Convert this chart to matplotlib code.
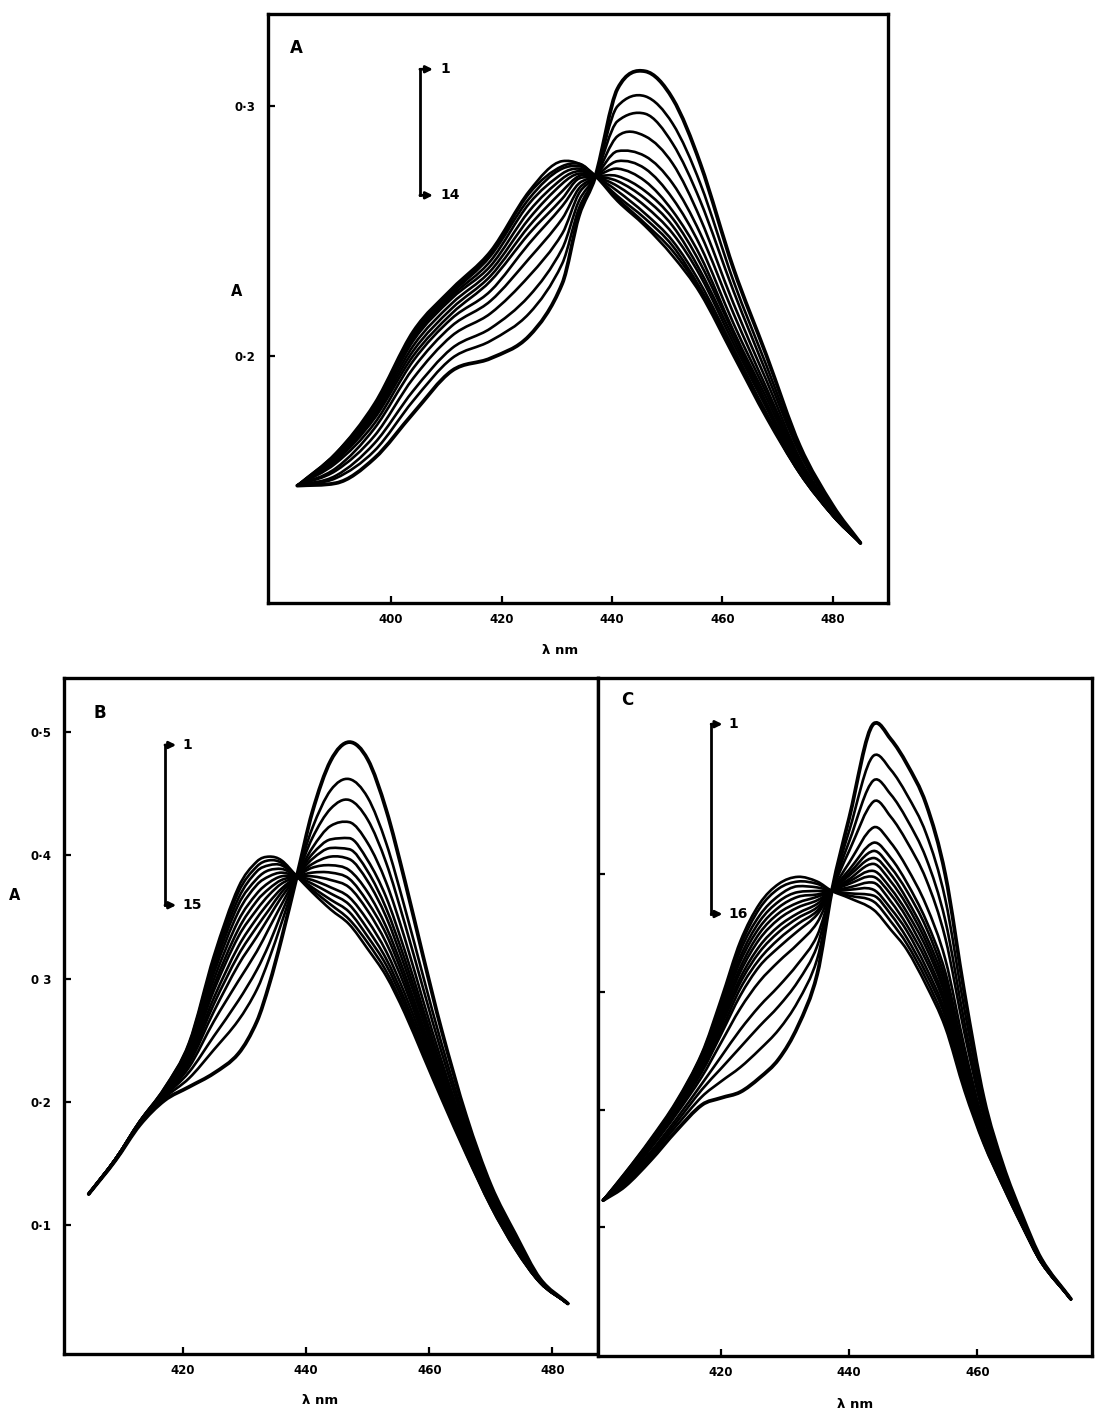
import numpy as np
import matplotlib
matplotlib.use("Agg")
import matplotlib.pyplot as plt
from matplotlib.path import Path
from matplotlib.patches import PathPatch

# ---- panel A : 14 spectra, one row per wavelength, one column per spectrum (1..14)
wl_a = [383, 390, 397, 404, 411, 418, 425, 431, 434, 437, 441, 446, 451, 456, 462, 468, 474, 480, 485]
abs_a = [
    [.148] * 14,
    [.149, .151, .152, .154, .155, .157, .158, .158, .159, .159, .160, .160, .161, .161],
    [.159, .162, .165, .168, .171, .173, .175, .176, .177, .178, .179, .180, .180, .181],
    [.177, .182, .186, .191, .195, .198, .200, .202, .204, .206, .207, .208, .209, .210],
    [.194, .199, .203, .208, .212, .215, .217, .219, .221, .223, .224, .225, .226, .227],
    [.199, .206, .211, .217, .222, .226, .230, .232, .234, .236, .238, .240, .241, .242],
    [.208, .217, .224, .232, .239, .245, .249, .252, .255, .258, .261, .263, .265, .266],
    [.229, .237, .243, .249, .255, .260, .263, .266, .269, .271, .273, .275, .276, .278],
    [.256, .259, .262, .265, .267, .269, .271, .272, .273, .274, .275, .276, .277, .277],
    [.272] * 14,
    [.307, .300, .294, .288, .282, .278, .275, .272, .270, .268, .266, .264, .263, .262],
    [.314, .304, .297, .288, .280, .275, .270, .266, .263, .260, .257, .255, .253, .252],
    [.303, .293, .285, .277, .269, .263, .258, .255, .252, .249, .246, .244, .242, .240],
    [.277, .269, .262, .255, .249, .244, .240, .237, .234, .232, .229, .227, .226, .225],
    [.235, .230, .226, .221, .217, .213, .210, .209, .207, .205, .203, .202, .201, .200],
    [.200, .196, .193, .190, .187, .185, .183, .181, .180, .179, .177, .176, .176, .175],
    [.164, .162, .161, .159, .158, .157, .156, .155, .155, .154, .154, .153, .153, .153],
    [.140, .139, .139, .138, .138, .137, .137, .137, .136, .136, .136, .136, .136, .136],
    [.125] * 14,
]

# ---- panel B : 15 spectra
wl_b = [404.7, 409, 413, 417, 421, 425, 429, 432, 434, 436, 438.5, 441, 444, 447, 450, 453,
        456, 459, 462, 466, 470, 474, 478, 482.5]
abs_b = [
    [.125] * 15,
    [.152, .152, .152, .152, .153, .153, .153, .153, .153, .153, .153, .153, .153, .153, .153],
    [.181, .182, .182, .182, .183, .183, .183, .183, .183, .183, .184, .184, .184, .184, .184],
    [.201, .203, .204, .205, .206, .207, .207, .208, .208, .209, .209, .210, .210, .211, .211],
    [.212, .219, .224, .228, .231, .233, .235, .237, .239, .241, .243, .244, .246, .247, .248],
    [.223, .242, .253, .265, .273, .279, .284, .290, .294, .299, .304, .308, .312, .315, .318],
    [.239, .266, .282, .298, .311, .319, .326, .334, .340, .347, .354, .360, .365, .370, .374],
    [.265, .291, .307, .322, .334, .342, .349, .356, .363, .369, .376, .381, .387, .391, .395],
    [.295, .316, .328, .341, .350, .356, .362, .368, .373, .378, .383, .388, .392, .396, .399],
    [.332, .345, .353, .360, .366, .370, .373, .377, .380, .383, .386, .389, .392, .394, .396],
    [.383] * 15,
    [.435, .422, .414, .406, .401, .397, .393, .390, .386, .383, .380, .377, .374, .372, .370],
    [.477, .453, .438, .424, .413, .406, .399, .392, .386, .380, .374, .369, .364, .360, .356],
    [.492, .462, .445, .427, .414, .405, .397, .388, .381, .374, .366, .360, .354, .348, .344],
    [.478, .447, .429, .410, .396, .387, .379, .370, .362, .355, .347, .340, .334, .329, .324],
    [.437, .410, .394, .378, .366, .357, .350, .342, .336, .329, .322, .316, .311, .306, .302],
    [.380, .358, .345, .333, .323, .316, .310, .304, .299, .294, .288, .283, .279, .275, .272],
    [.318, .302, .292, .282, .275, .270, .266, .261, .257, .253, .249, .245, .242, .239, .237],
    [.258, .247, .240, .233, .228, .225, .222, .219, .216, .213, .210, .208, .206, .204, .202],
    [.188, .182, .178, .174, .172, .170, .168, .166, .165, .163, .162, .160, .159, .158, .157],
    [.132, .129, .127, .125, .123, .122, .121, .120, .119, .118, .118, .117, .116, .115, .115],
    [.092, .090, .088, .087, .086, .085, .084, .084, .083, .082, .082, .081, .081, .080, .080],
    [.056, .055, .055, .055, .054, .054, .054, .054, .054, .054, .053, .053, .053, .053, .053],
    [.036] * 15,
]

# ---- panel C : 16 spectra
wl_c = [401.6, 405, 409, 413, 417, 420, 423, 426, 429, 432, 435, 437.3, 440, 443.8, 446.5, 449,
        452, 455, 458, 461, 464, 467, 470, 474.6]
abs_c = [
    [.123] * 16,
    [.135, .137, .138, .140, .141, .142, .142, .143, .143, .144, .144, .144, .145, .145, .146, .146],
    [.157, .160, .162, .164, .167, .168, .169, .170, .171, .171, .172, .173, .173, .174, .174, .175],
    [.182, .186, .189, .192, .196, .198, .199, .200, .201, .202, .203, .204, .204, .205, .206, .207],
    [.204, .211, .217, .222, .228, .232, .234, .236, .237, .239, .241, .242, .244, .245, .247, .248],
    [.210, .224, .235, .245, .257, .264, .267, .271, .274, .277, .280, .283, .286, .288, .291, .294],
    [.215, .236, .253, .268, .286, .297, .303, .308, .312, .317, .321, .326, .330, .335, .339, .343],
    [.227, .251, .271, .288, .309, .322, .328, .334, .339, .345, .350, .355, .360, .365, .371, .375],
    [.243, .268, .288, .305, .326, .338, .345, .351, .356, .362, .367, .372, .377, .382, .388, .392],
    [.271, .292, .309, .324, .341, .352, .358, .363, .367, .372, .376, .381, .385, .390, .394, .398],
    [.315, .328, .339, .348, .359, .366, .369, .372, .375, .378, .381, .383, .386, .389, .392, .394],
    [.386] * 16,
    [.448, .437, .428, .420, .410, .404, .401, .399, .396, .394, .392, .389, .387, .384, .382, .380],
    [.528, .501, .480, .462, .440, .427, .420, .414, .409, .403, .398, .393, .387, .382, .377, .370],
    [.515, .489, .468, .449, .427, .414, .406, .400, .394, .388, .383, .377, .371, .366, .360, .353],
    [.494, .468, .447, .428, .406, .393, .386, .379, .374, .368, .363, .357, .352, .346, .341, .336],
    [.460, .435, .414, .396, .374, .361, .355, .348, .343, .338, .332, .327, .321, .316, .311, .306],
    [.400, .379, .361, .346, .328, .317, .311, .306, .301, .297, .292, .288, .283, .279, .274, .270],
    [.299, .285, .274, .265, .253, .246, .242, .239, .236, .233, .230, .227, .224, .221, .219, .216],
    [.210, .204, .198, .194, .188, .185, .183, .182, .180, .179, .178, .176, .175, .173, .172, .171],
    [.153, .150, .148, .145, .143, .141, .141, .140, .139, .139, .138, .137, .137, .136, .135, .135],
    [.110, .108, .107, .106, .105, .104, .104, .103, .103, .103, .102, .102, .102, .102, .101, .101],
    [.073, .073, .072, .072, .071, .071, .071, .071, .071, .071, .071, .070, .070, .070, .070, .070],
    [.039] * 16,
]

ticks_a = [400, 420, 440, 460, 480]
ticks_b = [420, 440, 460, 480]
ticks_c = [420, 440, 460]
yticks_a = [0.2, 0.3]
yticks_b = [0.1, 0.2, 0.3, 0.4, 0.5]
ylabels_a = ["0·2", "0·3"]
ylabels_b = ["0·1", "0·2", "0 3", "0·4", "0·5"]
yticks_c = [0.1, 0.2, 0.3, 0.4]


def smooth_path(x, y):
    # cubic bezier through the read points (drawn by matplotlib), tangents limited
    x = np.asarray(x, float)
    y = np.asarray(y, float)
    h = np.diff(x)
    d = np.diff(y) / h
    m = np.zeros(len(x))
    m[0], m[-1] = d[0], d[-1]
    for i in range(1, len(x) - 1):
        mc = (y[i + 1] - y[i - 1]) / (x[i + 1] - x[i - 1])
        lo = min(abs(d[i - 1]), abs(d[i]))
        if d[i - 1] * d[i] > 0:
            mc = np.sign(mc) * min(abs(mc), 3 * lo)
        elif d[i - 1] * d[i] < 0:
            mc = np.sign(mc) * min(abs(mc), lo)
        m[i] = mc
    verts = [(x[0], y[0])]
    codes = [Path.MOVETO]
    for i in range(len(x) - 1):
        verts += [(x[i] + h[i] / 3, y[i] + m[i] * h[i] / 3),
                  (x[i + 1] - h[i] / 3, y[i + 1] - m[i + 1] * h[i] / 3),
                  (x[i + 1], y[i + 1])]
        codes += [Path.CURVE4] * 3
    return Path(verts, codes)


def draw_panel(ax, wl, table, xlim, ylim, xt, yt, ylab, letter, last, arrow, xlab_pos):
    data = np.array(table)
    for k in range(data.shape[1]):
        lw = 2.7 if k == 0 else 1.9
        ax.add_patch(PathPatch(smooth_path(wl, data[:, k]), fill=False,
                               edgecolor="black", lw=lw, capstyle="round", joinstyle="round"))
    ax.set_xlim(*xlim)
    ax.set_ylim(*ylim)
    ax.set_xticks(xt)
    ax.set_xticklabels([str(t) for t in xt], fontsize=8.5, fontweight="bold")
    ax.set_yticks(yt)
    if ylab is None:
        ax.tick_params(axis="y", labelleft=False)
    else:
        ax.set_yticklabels(ylab, fontsize=8.5, fontweight="bold")
    ax.tick_params(direction="in", length=5, width=1.6, pad=7)
    ax.tick_params(axis="y", pad=9)
    for s in ax.spines.values():
        s.set_linewidth(2.4)
    ax.text(letter[0], letter[1], letter[2], transform=ax.transAxes, fontsize=12,
            fontweight="bold", ha="center", va="center")
    # arrow key 1 -> last
    x0, y_top, y_bot, x1 = arrow
    ax.plot([x0, x0], [y_top, y_bot], color="black", lw=2.0, transform=ax.transAxes)
    for yy, lab in [(y_top, "1"), (y_bot, last)]:
        ax.annotate("", xy=(x1, yy), xytext=(x0, yy), xycoords="axes fraction",
                    arrowprops=dict(arrowstyle="-|>", color="black", lw=2.0, mutation_scale=10,
                                    shrinkA=0, shrinkB=0))
        ax.text(x1 + 0.012, yy, lab, transform=ax.transAxes, fontsize=10,
                fontweight="bold", ha="left", va="center")
    ax.text(xlab_pos[0], xlab_pos[1], "λ nm", transform=ax.transAxes, fontsize=9.5,
            fontweight="bold", ha="center", va="center")


fig = plt.figure(figsize=(11.12, 14.18), dpi=100)
fig.patch.set_facecolor("white")

ax_a = fig.add_axes([0.2410, 0.5748, 0.5576, 0.4154])
draw_panel(ax_a, wl_a, abs_a, (377.7, 490.0), (0.101, 0.337), ticks_a, yticks_a, ylabels_a,
           (0.045, 0.942, "A"), "14", (0.245, 0.906, 0.692, 0.266), (0.471, -0.080))
ax_a.text(-0.050, 0.528, "A", transform=ax_a.transAxes, fontsize=10.5, fontweight="bold",
          ha="center", va="center")

ax_b = fig.add_axes([0.0576, 0.0451, 0.4802, 0.4767])
draw_panel(ax_b, wl_b, abs_b, (400.7, 487.4), (-0.005, 0.544), ticks_b, yticks_b, ylabels_b,
           (0.067, 0.948, "B"), "15", (0.189, 0.901, 0.664, 0.210), (0.479, -0.068))
ax_b.text(-0.092, 0.679, "A", transform=ax_b.transAxes, fontsize=10.5, fontweight="bold",
          ha="center", va="center")

ax_c = fig.add_axes([0.5378, 0.0437, 0.4442, 0.4781])
draw_panel(ax_c, wl_c, abs_c, (400.8, 477.9), (-0.0095, 0.567), ticks_c, yticks_c, None,
           (0.059, 0.968, "C"), "16", (0.229, 0.932, 0.652, 0.252), (0.520, -0.072))

fig.savefig("out.png", dpi=100, facecolor="white")
